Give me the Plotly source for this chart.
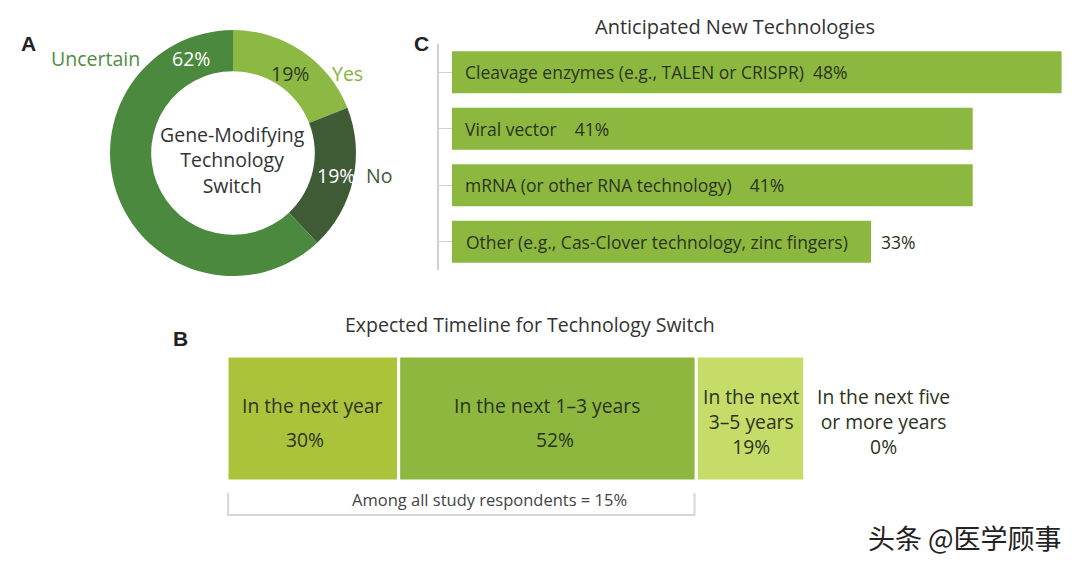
import plotly.graph_objects as go

# ---- Data ----
pie_labels = ["Yes", "No", "Uncertain"]
pie_values = [19, 19, 62]
pie_center_text = "Gene-Modifying<br>Technology<br>Switch"

tech_labels = ["Cleavage enzymes (e.g., TALEN or CRISPR)", "Viral vector",
               "mRNA (or other RNA technology)", "Other (e.g., Cas-Clover technology, zinc fingers)"]
tech_values = [48, 41, 41, 33]

time_labels = ["In the next year", "In the next 1–3 years", "In the next<br>3–5 years",
               "In the next five<br>or more years"]
time_values = [30, 52, 19, 0]
respondents_note = "Among all study respondents = 15%"

FONT = "Open Sans"
DARK = "#2e2e2e"

fig = go.Figure()

# ---- A: donut ----
fig.add_trace(go.Pie(
    labels=pie_labels, values=pie_values, hole=0.665, sort=False,
    direction="clockwise", rotation=0,
    marker=dict(colors=["#8cb943", "#3f5b36", "#4b8a3e"], line=dict(width=0)),
    textinfo="none", showlegend=False, hoverinfo="label+percent",
    domain=dict(x=[110/1080, 356/1080], y=[1-276/565, 1-30/565]),
))

# ---- C: horizontal bars ----
cats = list(range(len(tech_values)))
fig.add_trace(go.Bar(
    x=tech_values, y=cats, orientation="h", width=0.74,
    marker=dict(color="#8db83f", line=dict(width=0)),
    xaxis="x2", yaxis="y2", showlegend=False, hoverinfo="x",
))

# ---- B: stacked timeline ----
bases = []
acc = 0
for v in time_values:
    bases.append(acc)
    acc += v
time_colors = ["#abc33a", "#8db73e", "#c6dc68", "#ffffff"]
fig.add_trace(go.Bar(
    x=time_values, base=bases, y=[0]*len(time_values), orientation="h", width=1,
    marker=dict(color=time_colors, line=dict(color="white", width=3)),
    xaxis="x3", yaxis="y3", showlegend=False, hoverinfo="x",
))

pxu_c = 12.7
x2_start = 439
x2_min = -(452 - x2_start) / pxu_c
x2_max = x2_min + (1080 - x2_start) / pxu_c
total_time = sum(time_values)

fig.update_layout(
    width=1080, height=565, margin=dict(l=0, r=0, t=0, b=0),
    paper_bgcolor="white", plot_bgcolor="white",
    font=dict(family=FONT, color=DARK),
    xaxis2=dict(domain=[x2_start/1080, 1], range=[x2_min, x2_max], visible=False, fixedrange=True),
    yaxis2=dict(domain=[1-270/565, 1-44/565], range=[len(cats)-0.5, -0.5], anchor="x2",
                showline=True, linecolor="#d0d0d0", linewidth=2,
                ticks="inside", ticklen=13, tickcolor="#d0d0d0", tickwidth=1,
                tickvals=cats, showticklabels=False, showgrid=False, zeroline=False, fixedrange=True),
    xaxis3=dict(domain=[227/1080, 805/1080], range=[0, total_time], visible=False, fixedrange=True),
    yaxis3=dict(domain=[1-481/565, 1-356/565], range=[-0.5, 0.5], anchor="x3", visible=False, fixedrange=True),
)

ann = []
def A(text, x, y, xref="paper", yref="paper", size=16, color=DARK, xanchor="center",
      yanchor="middle", bold=False, family=FONT, **kw):
    ann.append(dict(text=f"<b>{text}</b>" if bold else text, x=x, y=y, xref=xref, yref=yref,
                    showarrow=False, xanchor=xanchor, yanchor=yanchor,
                    font=dict(size=size, color=color, family=family), **kw))

def py(p):
    return 1 - p/565

def pxx(p):
    return p/1080

# panel letters
A("A", pxx(28), py(44), size=21, bold=True, family="Liberation Sans", color="#222")
A("C", pxx(421), py(44), size=21, bold=True, family="Liberation Sans", color="#222")
A("B", pxx(180), py(338), size=21, bold=True, family="Liberation Sans", color="#222")

# donut labels
PS = 19.5
A(pie_center_text, pxx(232), py(160), size=PS, color="#333")
A(pie_labels[2], pxx(95), py(59), size=PS, color="#4f8c3f")
A(f"{pie_values[2]}%", pxx(191), py(59), size=PS, color="white")
A(f"{pie_values[0]}%", pxx(290), py(73), size=PS, color="#2c3a1e")
A(pie_labels[0], pxx(347), py(73), size=PS, color="#86b43c")
A(f"{pie_values[1]}%", pxx(336), py(175), size=PS, color="white")
A(pie_labels[1], pxx(379), py(175), size=PS, color="#3f5a35")

# titles
A("Anticipated New Technologies", pxx(735), py(26), size=20, color="#333")
A("Expected Timeline for Technology Switch", pxx(530), py(324), size=19.5, color="#333")

# bar labels
nb = "\u00a0"
BS = 17.5
for i, (lab, v) in enumerate(zip(tech_labels, tech_values)):
    if i == len(tech_labels) - 1:
        A(lab, 0, i, xref="x2", yref="y2", size=BS, color="#2b3320", xanchor="left", xshift=12)
        A(f"{v}%", v, i, xref="x2", yref="y2", size=BS, color="#2b3320", xanchor="left", xshift=8)
    else:
        gap = nb*2 if i == 0 else nb*4
        A(f"{lab}{gap}{v}%", 0, i, xref="x2", yref="y2", size=BS, color="#2b3320",
          xanchor="left", xshift=11)

# timeline labels
TS = 19.3
pct_shift = [-8, 8]
for i, (lab, v, b) in enumerate(zip(time_labels, time_values, bases)):
    if "<br>" in lab:
        if v == 0:
            xc, xs = b, 78
        else:
            xc, xs = b + v/2, 0
        A(f"{lab}<br>{v}%", xc, 0, xref="x3", yref="y3", size=TS, color="#2b3320", xshift=xs, yshift=-3)
    else:
        xc = b + v/2
        A(lab, xc, 0, xref="x3", yref="y3", size=TS, color="#2b3320", yshift=13)
        A(f"{v}%", xc, 0, xref="x3", yref="y3", size=TS, color="#2b3320", yshift=-21,
          xshift=pct_shift[i])

# bracket
bracket_end = time_values[0] + time_values[1]
shapes = [dict(type="path", xref="x3", yref="paper",
               path=f"M 0.2,{py(493)} L 0.2,{py(515)} L {bracket_end-0.3},{py(515)} L {bracket_end-0.3},{py(493)}",
               line=dict(color="#d6d6d6", width=2))]
A(respondents_note, bracket_end/2, py(499), xref="x3", size=16.5, color="#444", xshift=28)

# watermark
A("头条 @医学顾事", pxx(965), py(537), size=27, color="#222", family="Noto Sans CJK SC")

fig.update_layout(annotations=ann, shapes=shapes)
fig.write_html("out.html")
